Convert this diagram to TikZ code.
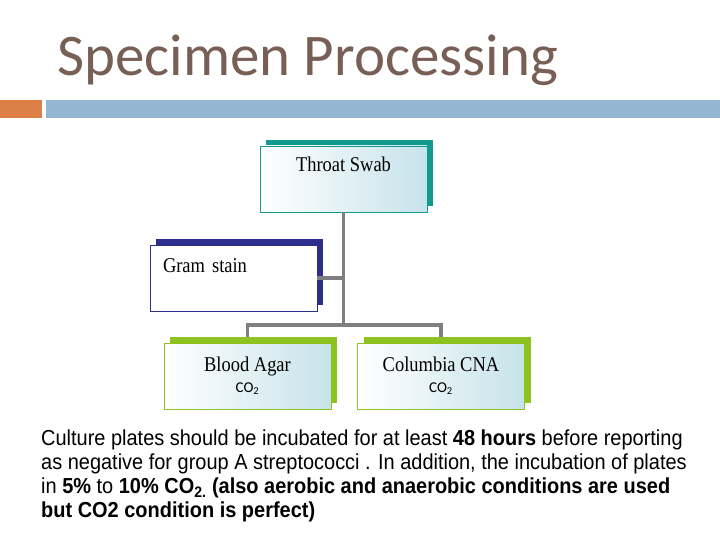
\documentclass[tikz,border=0pt]{standalone}
\usepackage{fontspec}
\setmainfont{Liberation Serif}
\newfontfamily\titlefont{Carlito}
\newfontfamily\boxfont{Liberation Serif}[FakeStretch=0.88]
\newfontfamily\bodyfont{Liberation Sans}[FakeStretch=0.92]
\newfontfamily\gasfont{Carlito}
\usetikzlibrary{shadows, positioning}
\definecolor{titlegray}{HTML}{775F55}
\definecolor{barorange}{HTML}{DD8047}
\definecolor{barblue}{HTML}{94B6D2}
\definecolor{swabteal}{HTML}{139A8F}
\definecolor{gramblue}{HTML}{2E2E8C}
\definecolor{agargreen}{HTML}{8DC21F}
\definecolor{linkgray}{HTML}{7F7F7F}
\definecolor{boxtint}{HTML}{C6E3EA}

\begin{document}
\begin{tikzpicture}[x=1pt, y=-1pt]
		
		% Setup the styles for the boxes
		\tikzset{box style/.style={draw=#1, line width=0.8pt,
				minimum width=167pt, minimum height=66pt,
				inner sep=0pt, left color=white, right color=boxtint,
				drop shadow={shadow xshift=6pt, shadow yshift=6pt,
					fill=#1, opacity=1}},
			link style/.style={draw=linkgray, line width=3.5pt}}
		
		\useasboundingbox (0, 0) rectangle (720, 540);
		
		% Title and bars
		\node[anchor=base west, inner sep=0pt, text=titlegray,
		font=\titlefont\fontsize{59}{62}\selectfont] (title) at (57, 76) {Specimen Processing};
		\fill[barorange] (0, 100) rectangle (42, 118);
		\fill[barblue] (46, 100) rectangle (720, 118);
		
		% Points where the connectors split
		\coordinate (split) at (343.5, 325);
		\coordinate (leftdrop) at (247.5, 325);
		\coordinate (rightdrop) at (441, 325);
		
		% Draw the boxes
		\node[box style=swabteal, text height=15pt, text depth=29pt,
		font=\boxfont\fontsize{21}{24}\selectfont] at (343.5, 179) (swab) {Throat Swab};
		\node[box style=gramblue, left color=white, right color=white,
		text width=141pt, text height=15pt, text depth=27pt, align=left,
		font=\boxfont\fontsize{21}{24}\selectfont] at (233.5, 278) (gram) {Gram stain};
		\node[box style=agargreen, align=center,
		font=\boxfont\fontsize{21}{24}\selectfont] at (247.5, 376) (blood)
		{Blood Agar\\[-3pt]{\gasfont\fontsize{15}{16}\selectfont CO\textsubscript{2}}};
		\node[box style=agargreen, align=center,
		font=\boxfont\fontsize{21}{24}\selectfont] at (441, 376) (cna)
		{Columbia CNA\\[-3pt]{\gasfont\fontsize{15}{16}\selectfont CO\textsubscript{2}}};
		
		% Connect the boxes
		\draw[link style] (swab.south) -- (split);
		\draw[link style] (gram.east) -- (gram.east -| split);
		\draw[link style, line cap=rect] (leftdrop) -- (rightdrop);
		\draw[link style] (leftdrop) -- ([yshift=6pt]blood.north);
		\draw[link style] (rightdrop) -- ([yshift=6pt]cna.north);
		
		% Note below the chart
		\node[anchor=north west, inner sep=0pt, align=left,
		font=\bodyfont\fontsize{21.7}{24}\selectfont] at (41, 430) (note)
		{Culture plates should be incubated for at least \textbf{48 hours} before reporting\\
			as negative for group A streptococci . In addition, the incubation of plates\\
			in \textbf{5\%} to \textbf{10\% CO\textsubscript{2.} (also aerobic and anaerobic conditions are used}\\
			\textbf{but CO2 condition is perfect)}};
		
\end{tikzpicture}
\end{document}
